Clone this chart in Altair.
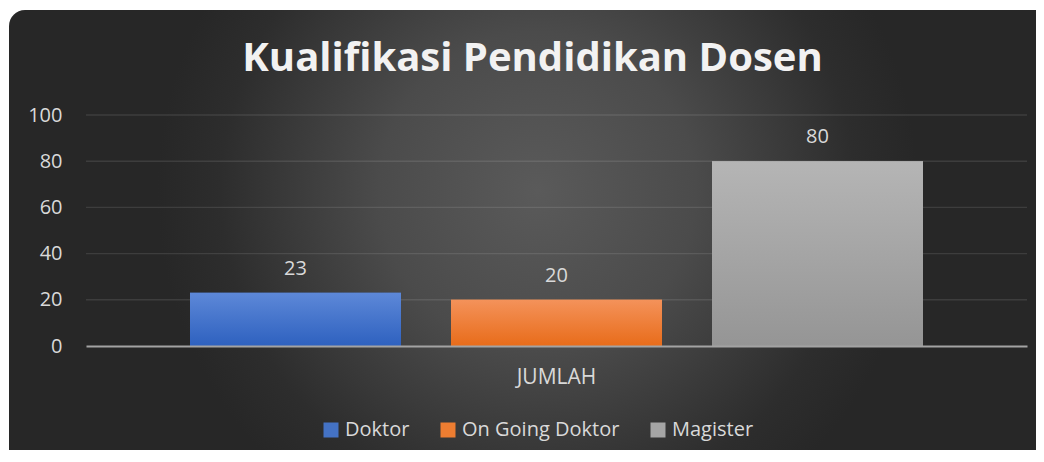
import altair as alt
import pandas as pd

# ---- data ----
title_text = "Kualifikasi Pendidikan Dosen"
categories = ["JUMLAH"]
series = ["Doktor", "On Going Doktor", "Magister"]
values = [23, 20, 80]
y_ticks = [0, 20, 40, 60, 80, 100]
grid_values = [20, 40, 60, 80, 100]

# ---- style ----
solid_colors = ["#4472C4", "#ED7D31", "#A5A5A5"]
grad_top = ["#5d88d8", "#f4925a", "#b5b5b5"]
grad_bottom = ["#2e61bf", "#e86c1a", "#959595"]
TXT = "#d9d9d9"
FONT = "Open Sans"
W, H = 941, 231

df = pd.DataFrame({"kategori": categories * len(series), "seri": series, "jumlah": values})
grid_df = pd.DataFrame({"jumlah": grid_values})
bg_df = pd.DataFrame({"a": [0]})
title_df = pd.DataFrame({"t": [title_text]})

xs = alt.X(
    "kategori:N",
    scale=alt.Scale(domain=categories, paddingInner=0, paddingOuter=0.1009),
    axis=alt.Axis(title=None, labelAngle=0, labelFontSize=21, labelFont=FONT,
                  labelColor=TXT, labelPadding=20, ticks=False, grid=False,
                  domainColor="#a3a3a3", domainWidth=2, zindex=1),
)
xo = alt.XOffset("seri:N", scale=alt.Scale(domain=series, paddingInner=0.1916, paddingOuter=0.0958))
ys = alt.Y(
    "jumlah:Q",
    scale=alt.Scale(domain=[0, 100], nice=False),
    axis=alt.Axis(title=None, values=y_ticks, grid=False, ticks=False, domain=False,
                  labelFontSize=20, labelFont=FONT, labelColor=TXT, labelPadding=24, zindex=1),
)

bg = alt.Chart(bg_df).mark_rect(
    cornerRadius=16,
    color=alt.Gradient(
        gradient="radial",
        stops=[alt.GradientStop(color="#5a5a5a", offset=0),
               alt.GradientStop(color="#4b4b4b", offset=0.25),
               alt.GradientStop(color="#2d2d2d", offset=0.5),
               alt.GradientStop(color="#272727", offset=0.6)],
        x1=0.5, y1=0.243, x2=0.5, y2=0.243, r1=0, r2=0.6,
    ),
).encode(x=alt.value(-77), x2=alt.value(980), y=alt.value(-105), y2=alt.value(800))

grid = alt.Chart(grid_df).mark_rule(color="#ffffff", opacity=0.1, strokeWidth=1.4).encode(y=ys)

bars_solid = alt.Chart(df).mark_bar().encode(
    x=xs, xOffset=xo, y=ys,
    color=alt.Color("seri:N", scale=alt.Scale(domain=series, range=solid_colors),
                    legend=alt.Legend(title=None, orient="none", legendX=235, legendY=305,
                                      direction="horizontal", symbolType="square",
                                      symbolSize=225, symbolStrokeWidth=0,
                                      labelFontSize=20, labelFont=FONT, labelColor=TXT,
                                      columnPadding=28, labelOffset=4, padding=0)),
)

grad_layers = []
for i, s in enumerate(series):
    grad_layers.append(
        alt.Chart(df).transform_filter(alt.datum.seri == s).mark_bar(
            color=alt.Gradient(
                gradient="linear",
                stops=[alt.GradientStop(color=grad_top[i], offset=0),
                       alt.GradientStop(color=grad_bottom[i], offset=1)],
                x1=0, x2=0, y1=0, y2=1,
            )
        ).encode(x=xs, xOffset=xo, y=ys)
    )

labels = alt.Chart(df).mark_text(
    dy=-18, baseline="alphabetic", align="center", fontSize=20, font=FONT, color=TXT
).encode(x=xs, xOffset=xo, y=ys, text="jumlah:Q")

title_mark = alt.Chart(title_df).mark_text(
    font=FONT, fontSize=40, fontWeight="bold", color="#f2f2f2",
    align="center", baseline="alphabetic"
).encode(x=alt.value(W / 2 - 24), y=alt.value(-44), text="t:N")

chart = alt.layer(bg, grid, bars_solid, *grad_layers, labels, title_mark).properties(
    width=W, height=H,
    autosize=alt.AutoSizeParams(type="none"),
    padding={"left": 78, "top": 107, "right": 9, "bottom": 104},
).configure_view(stroke=None).configure(background="#ffffff")

chart.save("out.html", embed_options={"renderer": "svg", "actions": False})
